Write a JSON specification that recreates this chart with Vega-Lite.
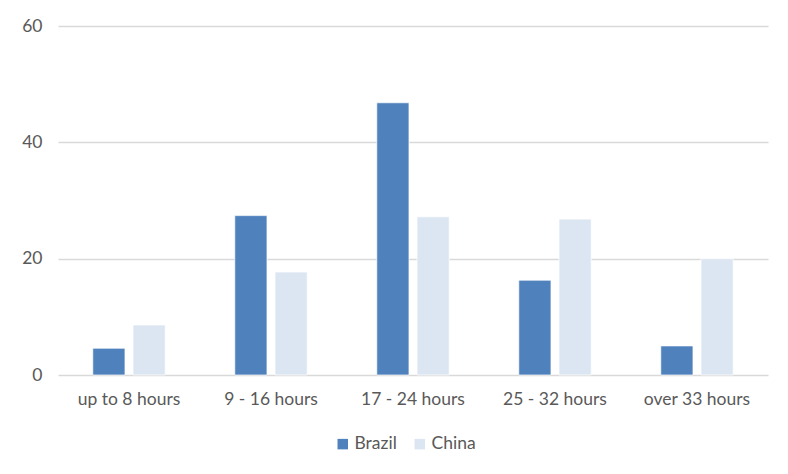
{
  "$schema": "https://vega.github.io/schema/vega-lite/v6.json",
  "width": 710,
  "height": 349,
  "autosize": {"type": "none"},
  "padding": {"left": 58, "top": 26, "right": 20, "bottom": 99},
  "background": "white",
  "config": {
    "view": {"stroke": null},
    "font": "Lato",
    "axis": {"labelFont": "Lato", "labelColor": "#595959", "labelFontSize": 17.5, "titleFont": "Lato"},
    "legend": {"labelFont": "Lato"}
  },
  "data": {
    "values": [
      {"category": "up to 8 hours", "country": "Brazil", "value": 4.6},
      {"category": "up to 8 hours", "country": "China", "value": 8.6},
      {"category": "9 - 16 hours", "country": "Brazil", "value": 27.4},
      {"category": "9 - 16 hours", "country": "China", "value": 17.7},
      {"category": "17 - 24 hours", "country": "Brazil", "value": 46.8},
      {"category": "17 - 24 hours", "country": "China", "value": 27.2},
      {"category": "25 - 32 hours", "country": "Brazil", "value": 16.3},
      {"category": "25 - 32 hours", "country": "China", "value": 26.8},
      {"category": "over 33 hours", "country": "Brazil", "value": 5.0},
      {"category": "over 33 hours", "country": "China", "value": 20.0}
    ]
  },
  "mark": {"type": "bar", "stroke": "white", "strokeWidth": 0.7},
  "encoding": {
    "x": {
      "field": "category",
      "type": "nominal",
      "sort": null,
      "scale": {"paddingInner": 0.49, "paddingOuter": 0.245},
      "axis": {
        "title": null,
        "labelAngle": 0,
        "ticks": false,
        "domain": false,
        "labelPadding": 15,
        "labelFontSize": 17.5
      }
    },
    "xOffset": {
      "field": "country",
      "type": "nominal",
      "scale": {"paddingInner": 0.2, "paddingOuter": 0}
    },
    "y": {
      "field": "value",
      "type": "quantitative",
      "scale": {"domain": [0, 60]},
      "axis": {
        "title": null,
        "values": [0, 20, 40, 60],
        "ticks": false,
        "domain": false,
        "gridColor": "#d9d9d9",
        "gridWidth": 1.5,
        "labelPadding": 16,
        "labelFontSize": 17.5
      }
    },
    "color": {
      "field": "country",
      "type": "nominal",
      "scale": {"domain": ["Brazil", "China"], "range": ["#4f81bd", "#dce6f2"]},
      "legend": {
        "title": null,
        "orient": "none",
        "direction": "horizontal",
        "legendX": 276,
        "legendY": 409,
        "symbolType": "square",
        "symbolSize": 110,
        "symbolStrokeWidth": 0,
        "labelFontSize": 17.5,
        "labelColor": "#595959",
        "labelOffset": 3,
        "columnPadding": 14
      }
    }
  }
}
